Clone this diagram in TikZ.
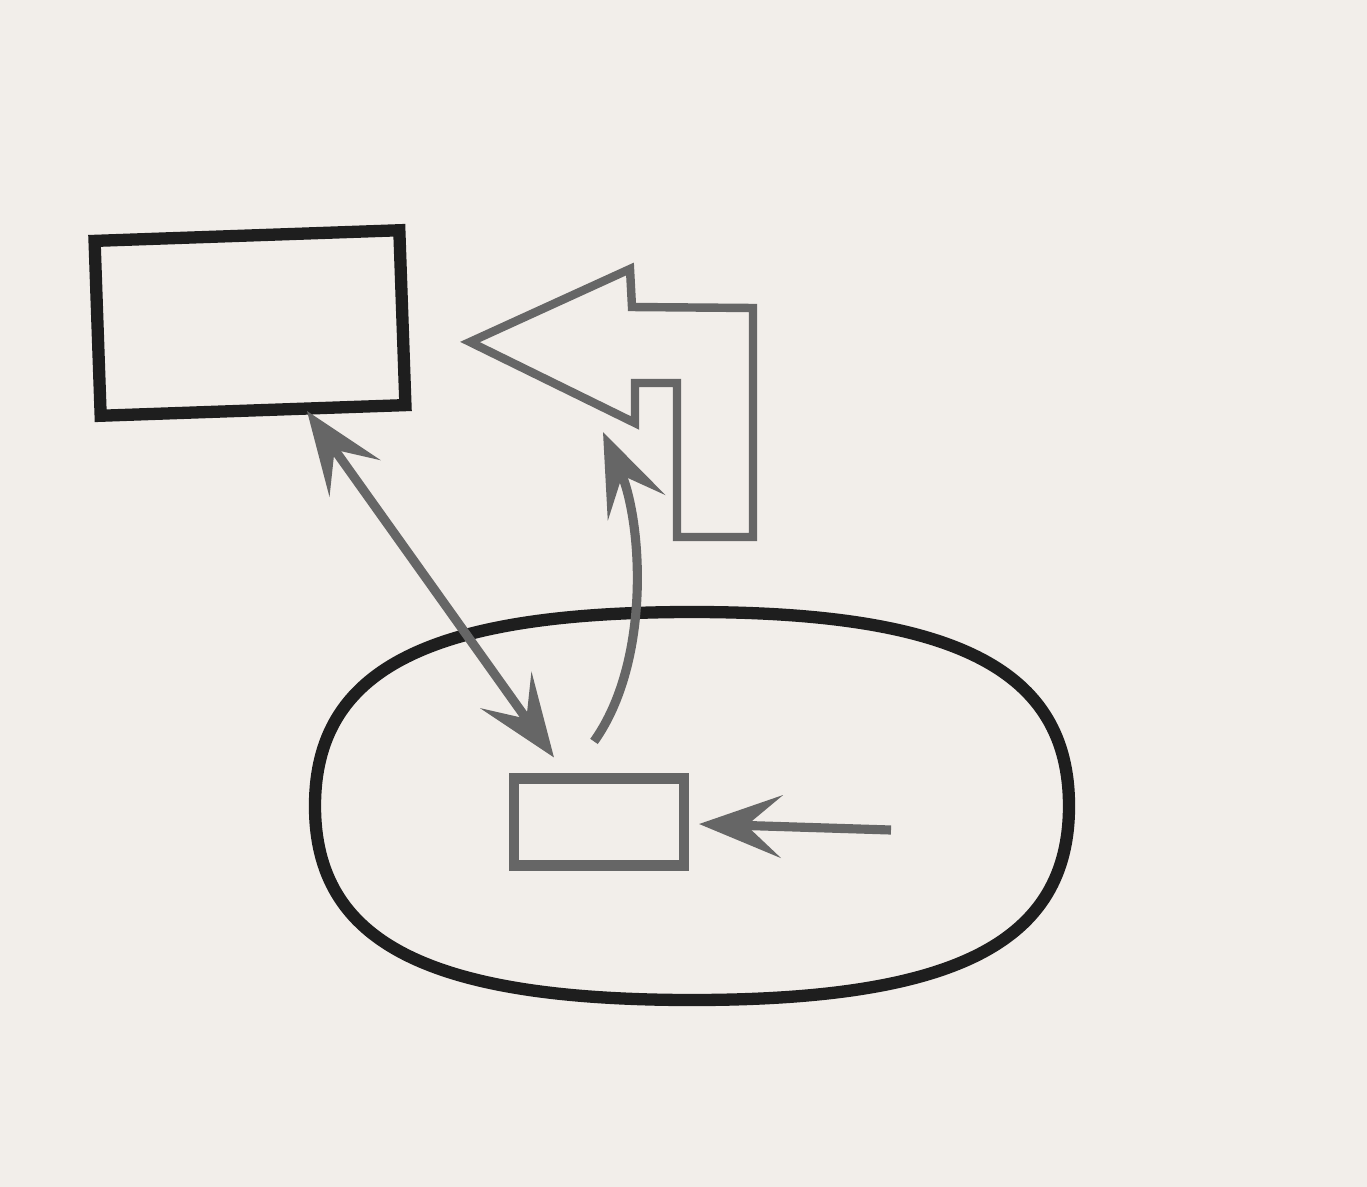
\documentclass[tikz,border=0pt]{standalone}
\usetikzlibrary{arrows.meta,calc}
\definecolor{paper}{HTML}{F2EEEA}
\definecolor{ink}{HTML}{1E1E1E}
\definecolor{grayink}{HTML}{666666}
\begin{document}
\begin{tikzpicture}[x=0.02cm,y=-0.02cm,
  blackbox/.style={draw=ink,line width=7pt,rectangle,inner sep=0pt},
  graybox/.style={draw=grayink,line width=5.8pt,rectangle,inner sep=0pt},
  headtip/.tip={Stealth[length=1.65cm,width=1.25cm,inset=0.7cm]},
  grayarrow/.style={draw=grayink,line width=5.2pt,arrows={-headtip}},
  grayboth/.style={draw=grayink,line width=5.2pt,arrows={headtip-headtip}},
  bentarrow/.style={draw=grayink,line width=4.8pt,line join=miter}]
\fill[paper] (0,0) rectangle (1367,1187);
\useasboundingbox (0,0) rectangle (1367,1187);

% big rectangle (top left)
\node[blackbox,minimum width=6.1cm,minimum height=3.5cm,rotate=2] (bigbox) at (250,323) {};

% rounded region (superellipse-like)
\draw[draw=ink,line width=7pt]
  (1069,806) .. controls (1069,670) and (956,612) .. (692,612)
  .. controls (428,612) and (315,670) .. (315,806)
  .. controls (315,942) and (428,1000) .. (692,1000)
  .. controls (956,1000) and (1069,942) .. (1069,806) -- cycle;

% small box inside region
\node[graybox,minimum width=3.4cm,minimum height=1.74cm] (smallbox) at (599,822) {};

% bent outline arrow (drawn directly)
\draw[bentarrow] (470,342) -- (630,269) -- (632,307) -- (753,308) -- (753,537)
  -- (677,537) -- (677,383) -- (635,383) -- (635,423) -- cycle;
\coordinate (bentbase) at (603,432);

% connectors
\coordinate (bigfoot) at (307,411);
\draw[grayboth] (bigfoot) -- ($(smallbox.north west)!0.5!(smallbox.north)+(0,-16)$);
\draw[grayarrow] ($(smallbox.north)+(-5,-32)$) .. controls (652,660) and (642,520) .. (bentbase);
\coordinate (feed) at (891,830);
\draw[grayarrow] (feed) -- ($(smallbox.east)+(10,2)$);
\end{tikzpicture}
\end{document}
